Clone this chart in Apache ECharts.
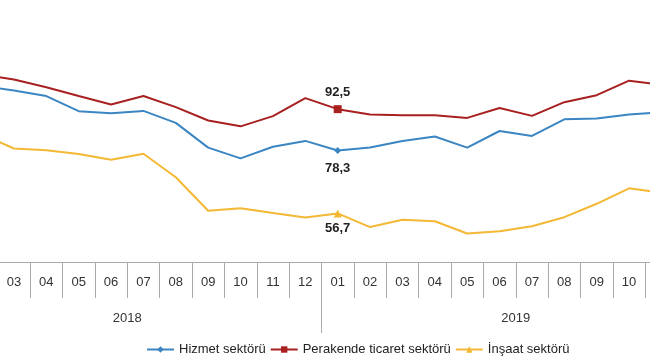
<!DOCTYPE html>
<html>
<head>
<meta charset="utf-8">
<script src="https://cdn.jsdelivr.net/npm/echarts@6/dist/echarts.min.js"></script>
<style>html,body{margin:0;padding:0;background:#fff;overflow:hidden;width:650px;height:360px}
#wrap{position:relative;width:650px;height:360px;overflow:hidden}
#c{position:absolute;left:-67px;top:0;width:850px;height:360px}</style>
</head>
<body>
<div id="wrap"><div id="c"></div></div>
<script>
const months = ['01','02','03','04','05','06','07','08','09','10','11','12','01','02','03','04','05','06','07','08','09','10','11','12'];
const years = ['2018','2019'];
const hizmet = [100.0, 100.5, 98.9, 97.0, 91.8, 91.1, 91.9, 87.8, 79.3, 75.6, 79.6, 81.6, 78.3, 79.3, 81.6, 83.1, 79.3, 85.0, 83.3, 89.0, 89.3, 90.7, 91.4, 91.0];
const perakende = [103.0, 104.4, 102.7, 100.0, 97.0, 94.1, 97.0, 93.2, 88.6, 86.6, 90.1, 96.3, 92.5, 90.7, 90.4, 90.4, 89.5, 92.9, 90.2, 94.9, 97.3, 102.3, 100.9, 100.5];
const insaat = [84.0, 83.9, 79.0, 78.4, 77.1, 75.1, 77.2, 69.1, 57.6, 58.5, 56.8, 55.3, 56.7, 52.0, 54.5, 54.0, 49.8, 50.6, 52.3, 55.4, 60.0, 65.3, 63.8, 63.0];
const markIndex = 12;

const FONT = 'Liberation Sans, Arial, sans-serif';
const fmt = p => String(p.value).replace('.', ',');
function build(vals, size, labelPos, labelDist) {
  return vals.map((v, i) => i === markIndex ? {
    value: v, symbolSize: size,
    label: {show: true, position: labelPos, distance: labelDist, formatter: fmt,
      fontFamily: FONT, fontSize: 13, fontWeight: 'bold', color: '#222'}
  } : {value: v, symbolSize: 0});
}
const chart = echarts.init(document.getElementById('c'));
chart.setOption({
  animation: false,
  grid: {left: 0, width: 777, top: -2, height: 264},
  legend: {
    top: 343, left: 213, padding: 0, itemWidth: 27, itemHeight: 8, itemGap: 4,
    textStyle: {fontFamily: FONT, fontSize: 13, color: '#222'},
    data: ['Hizmet sektörü', 'Perakende ticaret sektörü', 'İnşaat sektörü']
  },
  xAxis: [{
    type: 'category', data: months, position: 'bottom', boundaryGap: true,
    axisLine: {lineStyle: {color: '#aaa', width: 1}},
    axisTick: {show: true, interval: 0, length: 36, lineStyle: {color: '#aaa'}},
    axisLabel: {interval: 0, margin: 14, fontFamily: FONT, fontSize: 13, color: '#333'}
  }, {
    type: 'category', data: years, position: 'bottom', boundaryGap: true,
    axisLine: {show: false},
    axisTick: {show: true, interval: 0, length: 71, lineStyle: {color: '#aaa'}},
    axisLabel: {interval: 0, margin: 50, fontFamily: FONT, fontSize: 13, color: '#333'}
  }],
  yAxis: {type: 'value', min: 40, max: 130, show: false, splitLine: {show: false}},
  series: [{
    name: 'Hizmet sektörü', type: 'line', symbol: 'diamond', xAxisIndex: 0,
    data: build(hizmet, 7, 'bottom', 8),
    lineStyle: {color: '#3b86c2', width: 2}, itemStyle: {color: '#3b86c2'}
  }, {
    name: 'Perakende ticaret sektörü', type: 'line', symbol: 'rect', xAxisIndex: 0,
    data: build(perakende, 8, 'top', 6),
    lineStyle: {color: '#a82020', width: 2}, itemStyle: {color: '#a82020'}
  }, {
    name: 'İnşaat sektörü', type: 'line', symbol: 'triangle', xAxisIndex: 0,
    data: build(insaat, 8, 'bottom', 5),
    lineStyle: {color: '#f3b834', width: 2}, itemStyle: {color: '#f3b834'}
  }]
});
</script>
</body>
</html>
